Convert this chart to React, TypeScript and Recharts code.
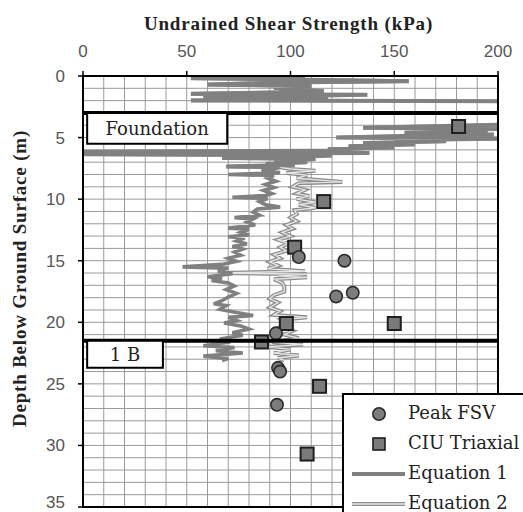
import React from "react";
import {
  ComposedChart,
  Scatter,
  XAxis,
  YAxis,
  ReferenceLine,
  ReferenceArea,
  Label,
} from "recharts";

// [kPa, depth m]
const profileTop: [number, number][] = [
  [55, 0.0], [107, 0.08], [52, 0.18], [100, 0.28], [157, 0.42], [95, 0.52], [60, 0.7], [110, 0.82],
  [92, 0.95], [102, 1.1], [116, 1.22], [96, 1.32], [52, 1.45], [137, 1.52], [100, 1.62], [58, 1.78],
  [118, 1.88], [52, 1.98], [210, 2.05], [260, 2.2], [260, 3.8], [210, 3.92], [135, 4.2], [200, 4.3],
  [172, 4.4], [195, 4.5], [155, 4.6], [198, 4.75], [160, 4.85], [122, 5.0], [205, 5.08], [150, 5.2],
  [175, 5.3], [135, 5.45], [160, 5.55], [128, 5.7], [150, 5.8], [118, 5.95], [135, 6.05], [0, 6.15],
  [138, 6.25], [0, 6.35], [120, 6.45], [105, 6.55], [67, 6.65], [112, 6.75], [92, 6.9], [108, 7.0],
  [88, 7.12], [102, 7.22], [69, 7.35], [95, 7.42],
];

const eq1Lower: [number, number][] = [
  [92, 7.55], [86, 7.7], [95, 7.85], [70, 8.0], [92, 8.08], [89, 8.3], [93, 8.55], [88, 8.8], [92, 9.05],
  [87, 9.3], [91, 9.55], [88, 9.7], [72, 9.85], [89, 9.95], [85, 10.2], [88, 10.45], [95, 10.65],
  [84, 10.8], [82, 11.05], [85, 11.3], [73, 11.5], [82, 11.6], [79, 11.85], [83, 12.1], [70, 12.35],
  [80, 12.45], [76, 12.7], [80, 12.9], [70, 13.05], [78, 13.15], [74, 13.4], [79, 13.65], [72, 13.85],
  [77, 14.05], [73, 14.3], [76, 14.55], [70, 14.8], [74, 15.05], [67, 15.3], [48, 15.5], [70, 15.6],
  [65, 15.85], [72, 16.05], [60, 16.3], [67, 16.45], [62, 16.6], [70, 16.8], [73, 17.05], [69, 17.35],
  [74, 17.65], [70, 17.95], [67, 18.25], [63, 18.5], [69, 18.65], [66, 18.95], [72, 19.15], [82, 19.45],
  [70, 19.6], [74, 19.85], [68, 20.05], [76, 20.3], [80, 20.55], [72, 20.85], [77, 21.05], [66, 21.35],
  [71, 21.6], [58, 21.9], [73, 22.05], [64, 22.3], [77, 22.5], [58, 22.75], [70, 22.95], [67, 23.1],
];

const eq2Lower: [number, number][] = [
  [100, 7.55], [112, 7.7], [98, 7.88], [108, 8.05], [103, 8.3], [125, 8.6], [104, 8.7], [101, 9.0],
  [107, 9.25], [103, 9.55], [109, 9.75], [103, 10.0], [112, 10.25], [104, 10.45], [112, 10.7], [102, 10.9],
  [103, 11.2], [100, 11.5], [103, 11.8], [98, 12.1], [101, 12.4], [96, 12.7], [100, 13.0], [94, 13.3],
  [99, 13.6], [95, 13.9], [98, 14.2], [92, 14.5], [95, 14.8], [90, 15.1], [94, 15.4], [89, 15.65],
  [107, 15.85], [67, 16.0], [108, 16.1], [94, 16.25], [108, 16.35], [92, 16.5], [96, 16.8], [97, 17.1],
  [97, 17.5], [92, 17.8], [90, 18.1], [94, 18.4], [90, 18.8], [95, 19.1], [92, 19.4], [108, 19.6],
  [96, 19.8], [99, 20.1], [95, 20.4], [101, 20.7], [97, 21.0], [104, 21.3], [91, 21.6], [106, 21.8],
  [89, 22.0], [100, 22.2], [92, 22.5], [104, 22.7], [94, 22.9], [97, 23.1],
];

const peakFsv: [number, number][] = [
  [104, 14.7], [126, 15.0], [122, 17.9], [130, 17.6], [93, 20.9], [94, 23.7], [95, 24.0], [93.5, 26.7],
];

const ciuTriaxial: [number, number][] = [
  [181, 4.1], [116, 10.2], [102, 13.9], [98, 20.1], [150, 20.1], [86, 21.6], [114, 25.2], [108, 30.7],
];

const xTicks = [0, 50, 100, 150, 200];
const yTicks = [0, 5, 10, 15, 20, 25, 30, 35];
const xGrid = [10, 20, 30, 40, 50, 60, 70, 80, 90, 100, 110, 120, 130, 140, 150, 160, 170, 180, 190];
const yGrid = [1, 2, 3, 4, 5, 6, 7, 8, 9, 10, 11, 12, 13, 14, 15, 16, 17, 18, 19, 20, 21, 22, 23, 24, 25, 26, 27, 28, 29, 30, 31, 32, 33, 34];
const layerDepths = [3, 21.5];

const toPts = (a: [number, number][]) => a.map(([x, y]) => ({ x, y }));
const eq1Data = toPts([...profileTop, ...eq1Lower]);
const eq2Data = toPts([...profileTop, ...eq2Lower]);
const fsvData = toPts(peakFsv);
const ciuData = toPts(ciuTriaxial);

const SERIF = "'DejaVu Serif', 'Liberation Serif', serif";
const SANS = "'Liberation Sans', Arial, sans-serif";
const GRID = "#9a9a9a";

const Circle = (p: any) => (
  <circle cx={p.cx} cy={p.cy} r={6.2} fill="#7c7c7c" stroke="#2a2a2a" strokeWidth={1.6} />
);
const Square = (p: any) => (
  <rect x={p.cx - 6.5} y={p.cy - 6.5} width={13} height={13} fill="#7a7a7a" stroke="#1e1e1e" strokeWidth={2} />
);
const NoShape = () => <g />;

function LegendBox() {
  const rows = [
    { key: "c", label: "Peak FSV" },
    { key: "s", label: "CIU Triaxial" },
    { key: "l1", label: "Equation 1" },
    { key: "l2", label: "Equation 2" },
  ];
  return (
    <div
      style={{
        position: "absolute",
        left: 342,
        top: 393,
        width: 200,
        height: 140,
        background: "#fff",
        border: "2px solid #000",
        boxSizing: "border-box",
      }}
    >
      {rows.map((r, i) => (
        <div key={r.key} style={{ position: "absolute", left: 0, top: 5 + i * 30, height: 30, width: 200 }}>
          <svg width={64} height={30} style={{ position: "absolute", left: 0, top: 0 }}>
            {r.key === "c" && <circle cx={35} cy={14} r={6.2} fill="#7c7c7c" stroke="#2a2a2a" strokeWidth={1.6} />}
            {r.key === "s" && <rect x={29} y={8} width={12} height={12} fill="#7a7a7a" stroke="#1e1e1e" strokeWidth={1.6} />}
            {r.key === "l1" && <line x1={8} x2={61} y1={14} y2={14} stroke="#808080" strokeWidth={4} />}
            {r.key === "l2" && (
              <g>
                <line x1={8} x2={61} y1={14} y2={14} stroke="#8c8c8c" strokeWidth={4} />
                <line x1={8} x2={61} y1={14} y2={14} stroke="#e8e8e8" strokeWidth={1.5} />
              </g>
            )}
          </svg>
          <span
            style={{
              position: "absolute",
              left: 64,
              top: 2,
              fontFamily: SERIF,
              fontSize: 18,
              color: "#222",
              whiteSpace: "nowrap",
              lineHeight: "22px",
            }}
          >
            {r.label}
          </span>
        </div>
      ))}
    </div>
  );
}

const boxLabel = (value: string) => ({
  value,
  position: "center" as const,
  fontSize: 18,
  fontFamily: SERIF,
  fill: "#222",
  zIndex: 2500,
});

export default function App() {
  return (
    <div style={{ position: "absolute", left: 0, top: 0, width: 523, height: 512, background: "#fff", overflow: "hidden" }}>
      <ComposedChart width={523} height={512} margin={{ top: 46, right: 25, bottom: 5, left: 23 }}>
        <XAxis
          type="number"
          dataKey="x"
          orientation="top"
          domain={[0, 200]}
          ticks={xTicks}
          allowDataOverflow
          height={30}
          axisLine={{ stroke: "#000", strokeWidth: 2 }}
          tickLine={{ stroke: "#000", strokeWidth: 1.5 }}
          tickSize={5}
          tickMargin={14}
          tick={{ fontSize: 17, fill: "#555", fontFamily: SANS }}
        >
          <Label
            content={(props: any) => {
              const vb = props.viewBox || {};
              return (
                <text
                  x={vb.x + vb.width / 2 - 2}
                  y={30}
                  textAnchor="middle"
                  fontFamily="'Liberation Serif', serif"
                  fontWeight="bold"
                  fontSize={19}
                  letterSpacing={0.85}
                  fill="#222"
                >
                  Undrained Shear Strength (kPa)
                </text>
              );
            }}
          />
        </XAxis>
        <YAxis
          type="number"
          dataKey="y"
          reversed
          domain={[0, 35]}
          ticks={yTicks}
          allowDataOverflow
          width={60}
          axisLine={{ stroke: "#000", strokeWidth: 2 }}
          tickLine={{ stroke: "#000", strokeWidth: 1.5 }}
          tickSize={5}
          tickMargin={13}
          tick={{ fontSize: 17, fill: "#555", fontFamily: SANS }}
        >
          <Label
            content={(props: any) => {
              const vb = props.viewBox || {};
              const cy = vb.y + vb.height / 2 - 13;
              return (
                <text
                  x={26}
                  y={cy}
                  transform={`rotate(-90 26 ${cy})`}
                  textAnchor="middle"
                  fontFamily="'Liberation Serif', serif"
                  fontWeight="bold"
                  fontSize={19}
                  letterSpacing={0.8}
                  fill="#222"
                >
                  Depth Below Ground Surface (m)
                </text>
              );
            }}
          />
        </YAxis>

        {xGrid.map((v) => (
          <ReferenceLine key={`gx${v}`} x={v} stroke={GRID} strokeWidth={1} zIndex={-100} />
        ))}
        {yGrid.map((v) => (
          <ReferenceLine key={`gy${v}`} y={v} stroke={GRID} strokeWidth={1} zIndex={-100} />
        ))}

        <Scatter
          name="Equation 2 outline"
          data={eq2Data}
          shape={NoShape}
          line={{ stroke: "#8c8c8c", strokeWidth: 4 }}
          lineType="joint"
          isAnimationActive={false}
          legendType="none"
        />
        <Scatter
          name="Equation 2"
          data={eq2Data}
          shape={NoShape}
          line={{ stroke: "#e6e6e6", strokeWidth: 1.4 }}
          lineType="joint"
          isAnimationActive={false}
          legendType="none"
        />
        <Scatter
          name="Equation 1"
          data={eq1Data}
          shape={NoShape}
          line={{ stroke: "#808080", strokeWidth: 3.6 }}
          lineType="joint"
          isAnimationActive={false}
          legendType="none"
        />

        {layerDepths.map((d) => (
          <ReferenceLine key={d} y={d} stroke="#000" strokeWidth={4} zIndex={1400} />
        ))}

        <ReferenceArea
          x1={2}
          x2={69.5}
          y1={3}
          y2={5.5}
          fill="#fff"
          fillOpacity={1}
          stroke="#000"
          strokeWidth={2}
          zIndex={1500}
          label={boxLabel("Foundation")}
        />
        <ReferenceArea
          x1={2}
          x2={38.5}
          y1={21.5}
          y2={23.7}
          fill="#fff"
          fillOpacity={1}
          stroke="#000"
          strokeWidth={2}
          zIndex={1500}
          label={boxLabel("1 B")}
        />

        <Scatter name="CIU Triaxial" data={ciuData} shape={Square} isAnimationActive={false} />
        <Scatter name="Peak FSV" data={fsvData} shape={Circle} isAnimationActive={false} />

        <ReferenceArea x1={0} x2={200} y1={0} y2={35} fill="none" fillOpacity={0} stroke="#000" strokeWidth={2} zIndex={1600} />
      </ComposedChart>
      <LegendBox />
    </div>
  );
}
